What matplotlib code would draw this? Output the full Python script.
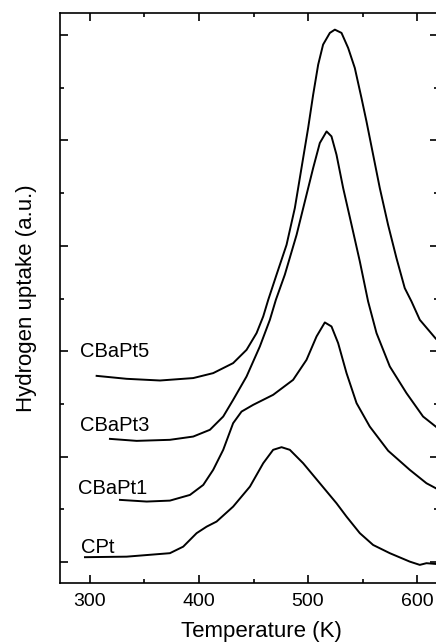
import matplotlib.pyplot as plt
from matplotlib.ticker import MultipleLocator

plt.rcParams['font.family'] = ['Liberation Sans', 'DejaVu Sans']

# curves: temperature (K) and uptake (a.u., offset per sample)
cpt_T = [295.4, 333.6, 373.3, 385.5, 397.8, 407.0, 416.1, 431.3, 446.7, 458.9,
         468.0, 475.7, 483.3, 495.5, 510.8, 526.1, 535.3, 547.5, 559.7, 575.0,
         593.3, 602.5, 608.6, 617.1]
cpt_h = [0.045, 0.05, 0.083, 0.145, 0.273, 0.335, 0.383, 0.525, 0.715, 0.937,
         1.064, 1.089, 1.064, 0.937, 0.747, 0.557, 0.43, 0.273, 0.161, 0.083,
         0.003, -0.028, -0.012, -0.019]

cbapt1_T = [327.5, 352.0, 373.3, 391.7, 403.9, 413.0, 422.2, 431.3, 439.0, 449.7,
            468.0, 486.3, 498.6, 507.8, 515.4, 521.5, 527.6, 535.3, 544.5, 556.6,
            573.5, 593.3, 608.6, 617.1]
cbapt1_h = [0.589, 0.573, 0.582, 0.636, 0.731, 0.874, 1.064, 1.317, 1.427, 1.491,
            1.586, 1.728, 1.918, 2.14, 2.273, 2.235, 2.077, 1.792, 1.507, 1.285,
            1.055, 0.874, 0.747, 0.70]

cbapt3_T = [318.3, 342.8, 373.3, 394.7, 410.0, 422.2, 431.3, 443.6, 455.8, 465.0,
            470.5, 478.7, 489.5, 497.1, 504.7, 510.8, 517.0, 521.5, 526.1, 532.2,
            539.9, 547.5, 555.1, 562.8, 575.0, 590.3, 605.5, 617.1]
cbapt3_h = [1.168, 1.149, 1.159, 1.19, 1.254, 1.38, 1.538, 1.76, 2.045, 2.298,
            2.488, 2.726, 3.105, 3.422, 3.739, 3.976, 4.086, 4.039, 3.865, 3.549,
            3.20, 2.852, 2.472, 2.172, 1.855, 1.602, 1.38, 1.285]

cbapt5_T = [306.1, 333.6, 364.2, 394.7, 413.0, 431.3, 443.6, 452.8, 458.9, 463.5,
            471.1, 480.3, 487.9, 494.0, 500.1, 504.7, 509.3, 513.8, 520.0, 524.6,
            530.7, 536.8, 542.9, 549.0, 553.6, 559.7, 565.8, 573.4, 581.1, 588.7,
            594.9, 602.5, 617.1]
cbapt5_h = [1.766, 1.738, 1.722, 1.745, 1.792, 1.887, 2.013, 2.172, 2.33, 2.488,
            2.726, 3.01, 3.359, 3.739, 4.119, 4.435, 4.72, 4.91, 5.021, 5.052,
            5.021, 4.878, 4.688, 4.404, 4.181, 3.865, 3.549, 3.20, 2.884, 2.599,
            2.472, 2.298, 2.12]

labels = ["CPt", "CBaPt1", "CBaPt3", "CBaPt5"]
label_T = [292, 289, 291, 291]
label_h = [0.085, 0.646, 1.244, 1.947]

fig = plt.figure(figsize=(4.36, 6.44), dpi=100)
ax = fig.add_axes([60 / 436, 61 / 644, 378 / 436, 570 / 644])

for T, h in [(cpt_T, cpt_h), (cbapt1_T, cbapt1_h), (cbapt3_T, cbapt3_h), (cbapt5_T, cbapt5_h)]:
    ax.plot(T, h, color="black", linewidth=1.4, solid_joinstyle="round")

for name, T, h in zip(labels, label_T, label_h):
    ax.text(T, h, name, fontsize=14.5, ha="left", va="baseline")

ax.set_xlim(272.5, 619.2)
ax.set_ylim(-0.2, 5.21)
ax.xaxis.set_major_locator(MultipleLocator(100))
ax.xaxis.set_minor_locator(MultipleLocator(50))
ax.yaxis.set_major_locator(MultipleLocator(1))
ax.yaxis.set_minor_locator(MultipleLocator(0.5))
ax.tick_params(which="both", direction="in", top=True, right=True, width=1.2)
ax.tick_params(which="major", length=6, labelsize=14, pad=7)
ax.tick_params(which="minor", length=3)
ax.tick_params(axis="y", labelleft=False)
for sp in ax.spines.values():
    sp.set_linewidth(1.2)

ax.set_xlabel("Temperature (K)", fontsize=16)
ax.set_ylabel("Hydrogen uptake (a.u.)", fontsize=16)
ax.xaxis.set_label_coords(0.534, -0.066)
ax.yaxis.set_label_coords(-0.061, 0.5)

fig.savefig("out.png", dpi=100)
